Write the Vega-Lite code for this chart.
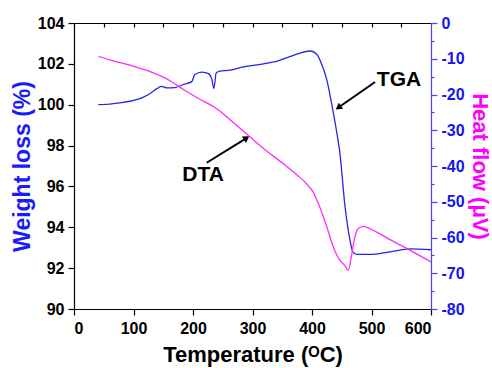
{
  "$schema": "https://vega.github.io/schema/vega-lite/v6.json",
  "width": 357,
  "height": 286,
  "autosize": {"type": "none"},
  "padding": {"left": 74, "top": 23, "right": 61, "bottom": 59},
  "background": "white",
  "config": {
    "view": {"stroke": null},
    "axis": {
      "grid": false,
      "labelFont": "Liberation Sans",
      "labelFontWeight": "bold",
      "labelFontSize": 16,
      "labelColor": "#000000",
      "titleFont": "Liberation Sans",
      "titleFontWeight": "bold",
      "domainColor": "#000000",
      "tickColor": "#000000",
      "domainWidth": 1.2,
      "tickWidth": 1.2
    }
  },
  "datasets": {
    "tga": [
      {"t": 41, "w": 100.0}, {"t": 60, "w": 100.03}, {"t": 80, "w": 100.1}, {"t": 94, "w": 100.17},
      {"t": 115, "w": 100.35}, {"t": 128, "w": 100.55}, {"t": 140, "w": 100.8}, {"t": 147, "w": 100.9},
      {"t": 156, "w": 100.82}, {"t": 170, "w": 100.84}, {"t": 184, "w": 100.99}, {"t": 198, "w": 101.13},
      {"t": 203, "w": 101.48}, {"t": 215, "w": 101.6}, {"t": 226, "w": 101.52}, {"t": 232, "w": 101.2},
      {"t": 235, "w": 100.79}, {"t": 239, "w": 101.55}, {"t": 245, "w": 101.64}, {"t": 262, "w": 101.69},
      {"t": 285, "w": 101.85}, {"t": 313, "w": 101.98}, {"t": 343, "w": 102.15}, {"t": 369, "w": 102.42},
      {"t": 397, "w": 102.63}, {"t": 408, "w": 102.47}, {"t": 416, "w": 102.0}, {"t": 425, "w": 101.2},
      {"t": 433, "w": 100.05}, {"t": 441, "w": 98.75}, {"t": 447, "w": 97.6}, {"t": 455, "w": 95.15},
      {"t": 464, "w": 93.35}, {"t": 469, "w": 92.78}, {"t": 475, "w": 92.67}, {"t": 497, "w": 92.67},
      {"t": 531, "w": 92.8}, {"t": 565, "w": 92.94}, {"t": 600, "w": 92.9}
    ],
    "dta": [
      {"t": 41, "h": -9.3}, {"t": 60, "h": -10.3}, {"t": 94, "h": -11.8}, {"t": 128, "h": -13.6},
      {"t": 160, "h": -16.0}, {"t": 184, "h": -18.6}, {"t": 210, "h": -21.2}, {"t": 240, "h": -24.0},
      {"t": 262, "h": -27.0}, {"t": 296, "h": -31.9}, {"t": 320, "h": -35.3}, {"t": 352, "h": -39.4},
      {"t": 375, "h": -42.5}, {"t": 391, "h": -45.0}, {"t": 402, "h": -47.3}, {"t": 413, "h": -51.5},
      {"t": 425, "h": -57.1}, {"t": 436, "h": -62.7}, {"t": 447, "h": -66.4}, {"t": 455, "h": -67.8},
      {"t": 461, "h": -69.2}, {"t": 466, "h": -65.5}, {"t": 472, "h": -59.9}, {"t": 477, "h": -57.6},
      {"t": 486, "h": -56.9}, {"t": 503, "h": -58.0}, {"t": 531, "h": -60.6}, {"t": 565, "h": -63.6},
      {"t": 600, "h": -66.8}
    ],
    "labels": [
      {"t": 509, "w": 101.2, "label": "TGA"},
      {"t": 182, "w": 96.54, "label": "DTA"}
    ],
    "arrows": [
      {"t": 506, "w": 101.11, "t2": 445.7, "w2": 99.89, "ang": 235},
      {"t": 223, "w": 97.16, "t2": 288.6, "w2": 98.34, "ang": 58}
    ]
  },
  "layer": [
    {
      "layer": [
        {
          "data": {"name": "tga"},
          "mark": {"type": "line", "color": "#2525e8", "strokeWidth": 1.3, "interpolate": "monotone"},
          "encoding": {
            "x": {
              "field": "t", "type": "quantitative",
              "scale": {"domain": [0, 600], "nice": false},
              "axis": {
                "orient": "bottom",
                "values": [0, 50, 100, 150, 200, 250, 300, 350, 400, 450, 500, 550, 600],
                "labelExpr": "datum.value % 100 === 0 ? datum.label : ''",
                "tickSize": {"condition": {"test": "datum.value % 100 === 0", "value": 6}, "value": 3},
                "labelPadding": 5,
                "title": "Temperature (ᴼC)",
                "titleFontSize": 22,
                "titlePadding": 8
              }
            },
            "y": {
              "field": "w", "type": "quantitative",
              "scale": {"domain": [90, 104], "nice": false, "zero": false},
              "axis": {
                "orient": "left",
                "values": [90, 91, 92, 93, 94, 95, 96, 97, 98, 99, 100, 101, 102, 103, 104],
                "labelExpr": "datum.value % 2 === 0 ? datum.label : ''",
                "tickSize": {"condition": {"test": "datum.value % 2 === 0", "value": 6}, "value": 3},
                "labelPadding": 4,
                "title": "Weight loss (%)",
                "titleColor": "#1a1aff",
                "titleFontSize": 23,
                "titlePadding": 3
              }
            }
          }
        },
        {
          "data": {"name": "arrows"},
          "mark": {"type": "rule", "color": "#000000", "strokeWidth": 2},
          "encoding": {
            "x": {"field": "t", "type": "quantitative"},
            "y": {"field": "w", "type": "quantitative"},
            "x2": {"field": "t2"},
            "y2": {"field": "w2"}
          }
        },
        {
          "data": {"name": "arrows"},
          "mark": {"type": "point", "shape": "triangle", "filled": true, "color": "#000000", "size": 55, "opacity": 1},
          "encoding": {
            "x": {"field": "t2", "type": "quantitative"},
            "y": {"field": "w2", "type": "quantitative"},
            "angle": {"field": "ang", "type": "quantitative", "scale": null}
          }
        },
        {
          "data": {"name": "labels"},
          "mark": {"type": "text", "font": "Liberation Sans", "fontWeight": "bold", "fontSize": 21, "color": "#000000", "align": "left", "baseline": "middle"},
          "encoding": {
            "x": {"field": "t", "type": "quantitative"},
            "y": {"field": "w", "type": "quantitative"},
            "text": {"field": "label"}
          }
        }
      ]
    },
    {
      "data": {"name": "dta"},
      "mark": {"type": "line", "color": "#ff2bff", "strokeWidth": 1.3, "interpolate": "monotone"},
      "encoding": {
        "x": {
          "field": "t", "type": "quantitative",
          "scale": {"domain": [0, 600], "nice": false},
          "axis": {
            "orient": "top",
            "values": [50, 100, 150, 200, 250, 300, 350, 400, 450, 500, 550],
            "labels": false,
            "tickSize": -4,
            "title": null
          }
        },
        "y": {
          "field": "h", "type": "quantitative",
          "scale": {"domain": [-80, 0], "nice": false, "zero": false},
          "axis": {
            "orient": "right",
            "values": [-80, -75, -70, -65, -60, -55, -50, -45, -40, -35, -30, -25, -20, -15, -10, -5, 0],
            "labelExpr": "datum.value % 10 === 0 ? '' + datum.value : ''",
            "tickSize": {"condition": {"test": "datum.value % 10 === 0", "value": 6}, "value": 3},
            "labelPadding": 4,
            "labelColor": "#1515ee",
            "domainColor": "#4444ff",
            "tickColor": "#4444ff",
            "title": "Heat flow (μV)",
            "titleColor": "#ff00ff",
            "titleFontSize": 22,
            "titlePadding": 3
          }
        }
      }
    }
  ],
  "resolve": {
    "scale": {"x": "independent", "y": "independent"},
    "axis": {"x": "independent", "y": "independent"}
  }
}
